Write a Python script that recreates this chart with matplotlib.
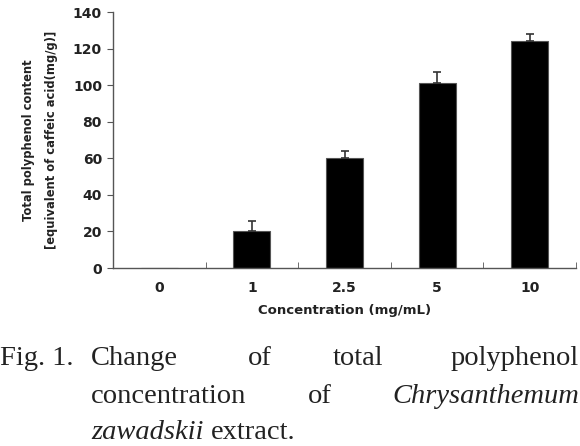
import numpy as np
import matplotlib.pyplot as plt

# data
conc_labels = ['0', '1', '2.5', '5', '10']
polyphenol = [0, 20.2, 60.2, 101.0, 124.0]
errors = [0, 5.5, 4.0, 6.0, 4.0]

fig = plt.figure(figsize=(5.8, 4.46), dpi=100)
ax = fig.add_axes([0.195, 0.399, 0.798, 0.574])

x = np.arange(len(conc_labels))
ax.bar(x, polyphenol, width=0.4, color='black', edgecolor='#555555', linewidth=0.8)
# error bars only upward
ax.errorbar(x[1:], polyphenol[1:], yerr=[np.zeros(4), errors[1:]], fmt='none',
            ecolor='#333333', elinewidth=1.2, capsize=3, capthick=1.2)

ax.set_xlim(-0.5, len(conc_labels) - 0.5)
ax.set_ylim(0, 140)
ax.set_yticks(np.arange(0, 141, 20))
ax.set_xticks(x)
ax.set_xticklabels(conc_labels)
ax.set_xticks(np.arange(-0.5, len(conc_labels)), minor=True)
ax.tick_params(axis='x', which='major', length=0, pad=9)
ax.tick_params(axis='x', which='minor', length=4, direction='in', color='#555555')
ax.tick_params(axis='y', length=4, color='#555555', pad=4)
for lab in ax.get_xticklabels() + ax.get_yticklabels():
    lab.set_fontsize(10)
    lab.set_fontweight('bold')
    lab.set_color('#222222')

for s in ['top', 'right']:
    ax.spines[s].set_visible(False)
for s in ['left', 'bottom']:
    ax.spines[s].set_color('#555555')
    ax.spines[s].set_linewidth(1.0)

ax.set_xlabel('Concentration (mg/mL)', fontsize=9.5, fontweight='bold', color='#222222', labelpad=7)
ax.set_ylabel('Total polyphenol content\n[equivalent of caffeic acid(mg/g)]',
              fontsize=8.3, fontweight='bold', color='#222222',
              labelpad=11, linespacing=2.0)

# justified caption
cap = dict(fontsize=20.5, family='Liberation Serif', color='#222222', va='baseline')
y1, y2, y3 = 1 - 365 / 446, 1 - 403 / 446, 1 - 439 / 446
fig.text(0.0, y1, 'Fig. 1.', **cap)
fig.text(91 / 580, y1, 'Change', **cap)
fig.text(248 / 580, y1, 'of', **cap)
fig.text(333 / 580, y1, 'total', **cap)
fig.text(0.998, y1, 'polyphenol', ha='right', **cap)
fig.text(91 / 580, y2, 'concentration', **cap)
fig.text(308 / 580, y2, 'of', **cap)
fig.text(0.998, y2, 'Chrysanthemum', ha='right', style='italic', **cap)
t = fig.text(91 / 580, y3, 'zawadskii', style='italic', **cap)
fig.canvas.draw()
bb = t.get_window_extent()
fig.text((bb.x1 + 7) / 580, y3, 'extract.', **cap)

fig.savefig('out.png', dpi=100)
